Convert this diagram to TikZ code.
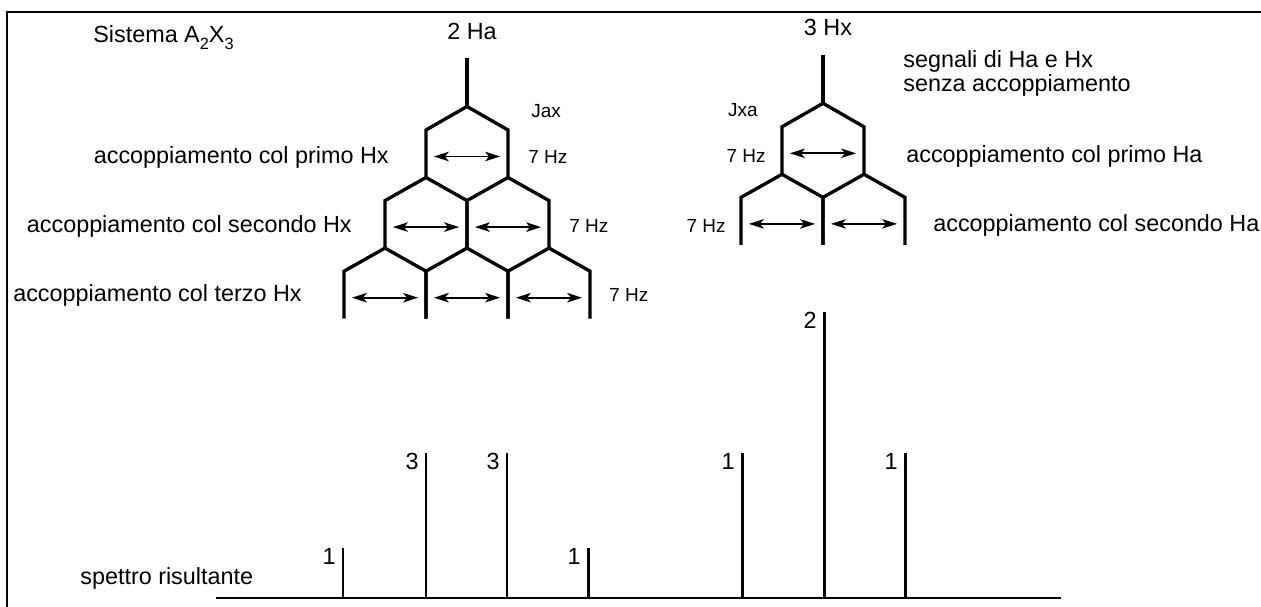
\documentclass[tikz,border=0pt]{standalone}
\usepackage{fontspec}
\setmainfont{Liberation Sans}
\usetikzlibrary{arrows.meta}
\tikzset{
  splitline/.style={line width=1.9pt, line join=miter},
  jarrow/.style={{Stealth[length=8.5pt,width=5.4pt,inset=2.2pt]}-{Stealth[length=8.5pt,width=5.4pt,inset=2.2pt]},
    line width=1pt, shorten <=4.5pt, shorten >=4.5pt},
  peak/.style={line width=1.7pt},
  axisline/.style={line width=1.2pt},
  frameline/.style={line width=1pt},
  bigtext/.style={inner sep=0pt, font=\fontsize{13.3}{16}\selectfont},
  smalltext/.style={inner sep=0pt, font=\fontsize{10.8}{13}\selectfont}
}
\newcommand{\lowsub}[1]{\raisebox{-0.28em}{\fontsize{9.3}{10}\selectfont #1}}

\begin{document}
\begin{tikzpicture}[x=0.02cm, y=-0.02cm]
  \useasboundingbox (0,0) rectangle (1261,607);
  \draw[frameline] (7.3,607) -- (7.3,12.3) -- (1261,12.3);

  % vertices of the two splitting trees
  \foreach \tr/\cx/\cy/\dep in {la/467/106.5/3, lx/823/103.3/2} {
    \coordinate (\tr00t) at (\cx,\cy-48);
    \coordinate (\tr00b) at (\cx,\cy);
    \foreach \k in {1,...,\dep} {
      \foreach \j in {0,...,\k} {
        \coordinate (\tr\k\j t) at ({\cx+(2*\j-\k)*41},{\cy+23.5+(\k-1)*70.6});
        \coordinate (\tr\k\j b) at ({\cx+(2*\j-\k)*41},{\cy+71+(\k-1)*70.6});
        \coordinate (\tr\k\j m) at ({\cx+(2*\j-\k)*41},{\cy+50+(\k-1)*70.6});
      }
    }
  }

  % tree lines
  \foreach \tr/\dm in {la/2, lx/1} {
    \draw[splitline] (\tr00t) -- (\tr00b);
    \foreach \k [evaluate=\k as \n using int(\k+1)] in {0,...,\dm} {
      \foreach \j [evaluate=\j as \m using int(\j+1)] in {0,...,\k} {
        \draw[splitline] (\tr\n\j b) -- (\tr\n\j t) -- (\tr\k\j b) -- (\tr\n\m t) -- (\tr\n\m b);
      }
    }
  }

  % coupling arrows
  \foreach \tr/\dep in {la/3, lx/2} {
    \foreach \k in {1,...,\dep} {
      \foreach \j [evaluate=\j as \i using int(\j-1)] in {1,...,\k} {
        \draw[jarrow] (\tr\k\i m) -- (\tr\k\j m);
      }
    }
  }

  % labels
  \node[bigtext, anchor=base west] (sys) at (93,42.7) {Sistema A\lowsub{2}X\lowsub{3}};
  \node[bigtext, anchor=base] (ha) at (472,39.3) {2 Ha};
  \node[bigtext, anchor=base] (hx) at (828,36) {3 Hx};
  \node[smalltext, anchor=base west] (jax) at (531,117.3) {Jax};
  \node[smalltext, anchor=base west] (hzA1) at (528,163.3) {7 Hz};
  \node[smalltext, anchor=base west] (hzA2) at (569,232.3) {7 Hz};
  \node[smalltext, anchor=base west] (hzA3) at (609,301.7) {7 Hz};
  \node[bigtext, anchor=base east] (primoHx) at (389,163.3) {accoppiamento col primo Hx};
  \node[bigtext, anchor=base east] (secondoHx) at (352,232.3) {accoppiamento col secondo Hx};
  \node[bigtext, anchor=base east] (terzoHx) at (302,301.7) {accoppiamento col terzo Hx};
  \node[smalltext, anchor=base east] (jxa) at (758,116.7) {Jxa};
  \node[smalltext, anchor=base east] (hzX1) at (766,163) {7 Hz};
  \node[smalltext, anchor=base east] (hzX2) at (726,232.7) {7 Hz};
  \node[bigtext, anchor=base west] (segnali) at (903,68) {segnali di Ha e Hx};
  \node[bigtext, anchor=base west] (senza) at (903,91.7) {senza accoppiamento};
  \node[bigtext, anchor=base west] (primoHa) at (906,163) {accoppiamento col primo Ha};
  \node[bigtext, anchor=base west] (secondoHa) at (933,231.7) {accoppiamento col secondo Ha};
  \node[bigtext, anchor=base west] (spettro) at (80,584) {spettro risultante};

  % resulting spectrum
  \coordinate (axL) at (216,598);
  \coordinate (axR) at (1061,598);
  \draw[axisline] (axL) -- (axR);
  \foreach \x/\y/\lab [count=\n] in {343/548/1, 426/453/3, 507/453/3, 588/548/1,
      742/453/1, 824/312/2, 905/453/1} {
    \coordinate (pk\n) at (\x,598);
    \coordinate (tp\n) at (\x,\y);
    \draw[peak] (pk\n) -- (tp\n);
    \node[bigtext, anchor=north east] (in\n) at ([xshift=-4pt]tp\n) {\lab};
  }
\end{tikzpicture}
\end{document}
